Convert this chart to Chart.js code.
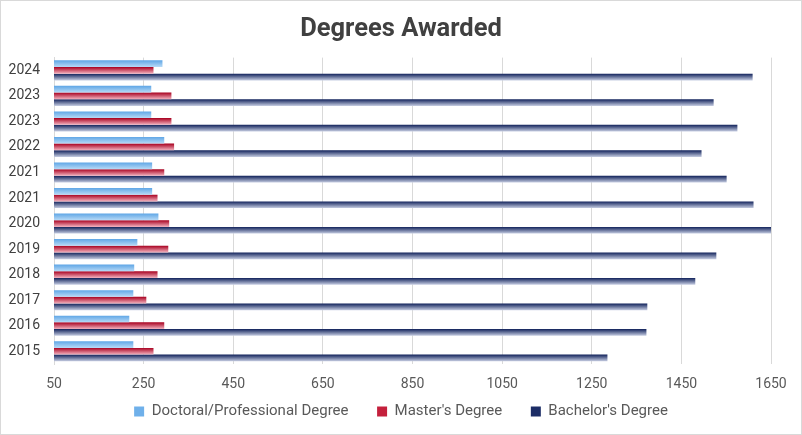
<!DOCTYPE html>
<html>
<head>
<meta charset="utf-8">
<script src="https://cdn.jsdelivr.net/npm/chart.js@4"></script>
<style>
  body { margin: 0; background: #fff; }
  #wrap { width: 802px; height: 435px; box-sizing: border-box; border: 1px solid #d9d9d9; }
</style>
</head>
<body>
<div id="wrap"><canvas id="chart"></canvas></div>
<script>
// years, top row first (as in the picture)
const years = ["2024", "2023", "2023", "2022", "2021", "2021", "2020", "2019", "2018", "2017", "2016", "2015"];

const doctoral = [292, 267, 267, 296, 269, 269, 283, 236, 229, 227, 218, 227];
const masters = [272, 312, 312, 318, 296, 281, 307, 305, 281, 256, 296, 272];
const bachelors = [1609, 1522, 1575, 1495, 1551, 1611, 1650, 1528, 1481, 1374, 1372, 1285];

const xTicks = [50, 250, 450, 650, 850, 1050, 1250, 1450, 1650];

const FONT = "Roboto, sans-serif";
const GROUP = 0.786;

// vertical gradient for each bar, dark on top, light below
function barFill(top, bottom, flat) {
  return function (ctx) {
    if (ctx.type !== "data") return flat;
    let chart = ctx.chart;
    let y = chart.scales.y;
    if (!y || !chart.chartArea) return flat;
    let cat = (y.bottom - y.top) / years.length;
    let h = cat * GROUP / 3;
    let start = y.getPixelForValue(ctx.dataIndex) - cat * GROUP / 2 + ctx.datasetIndex * h;
    let g = chart.ctx.createLinearGradient(0, start, 0, start + h);
    g.addColorStop(0, top);
    g.addColorStop(1, bottom);
    return g;
  };
}

const legendColors = ["#6fb0ea", "#c4203c", "#1c2d66"];

new Chart(document.getElementById("chart"), {
  type: "bar",
  data: {
    labels: years,
    datasets: [
      {
        label: "Doctoral/Professional Degree",
        data: doctoral,
        backgroundColor: barFill("#5fa6e6", "#b8daf6", "#7ab8ec"),
      },
      {
        label: "Master's Degree",
        data: masters,
        backgroundColor: barFill("#a8001f", "#f3b3c0", "#c8283f"),
      },
      {
        label: "Bachelor's Degree",
        data: bachelors,
        backgroundColor: barFill("#10215a", "#c6cde2", "#23356e"),
      },
    ],
  },
  options: {
    indexAxis: "y",
    responsive: true,
    maintainAspectRatio: false,
    animation: false,
    datasets: {
      bar: { categoryPercentage: GROUP, barPercentage: 1, borderWidth: 0 },
    },
    layout: { padding: { left: 0, right: 0, bottom: 5 } },
    plugins: {
      title: {
        display: true,
        text: "Degrees Awarded",
        color: "#404040",
        font: { family: FONT, size: 25.5, weight: "bold" },
        padding: { top: 13, bottom: 13 },
      },
      legend: {
        position: "bottom",
        labels: {
          color: "#595959",
          font: { family: FONT, size: 15 },
          boxWidth: 10,
          boxHeight: 10,
          padding: 10,
          generateLabels: (chart) =>
            chart.data.datasets.map((ds, i) => ({
              text: i < 2 ? ds.label + "     " : ds.label,
              fillStyle: legendColors[i],
              strokeStyle: legendColors[i],
              lineWidth: 0,
              fontColor: "#595959",
              datasetIndex: i,
            })),
        },
      },
      tooltip: { enabled: false },
    },
    scales: {
      x: {
        min: 50,
        max: 1650,
        afterBuildTicks: (scale) => {
          scale.ticks = xTicks.map((v) => ({ value: v }));
        },
        afterFit: (scale) => {
          scale.height = 30;
        },
        grid: { color: "#d9d9d9", drawTicks: false },
        border: { display: false },
        ticks: {
          color: "#595959",
          font: { family: FONT, size: 14 },
          padding: 12,
          callback: (v) => String(v),
        },
      },
      y: {
        grid: { display: false, drawTicks: false },
        border: { color: "#d9d9d9" },
        afterFit: (scale) => {
          scale.width = 53;
        },
        ticks: { color: "#404040", font: { family: FONT, size: 14 }, padding: 14 },
      },
      // empty strip on the right, keeps the plot clear of the edge
      yRight: {
        type: "category",
        position: "right",
        grid: { display: false, drawTicks: false },
        border: { display: false },
        ticks: { display: false },
        afterFit: (scale) => {
          scale.width = 30;
        },
      },
    },
  },
});
</script>
</body>
</html>
